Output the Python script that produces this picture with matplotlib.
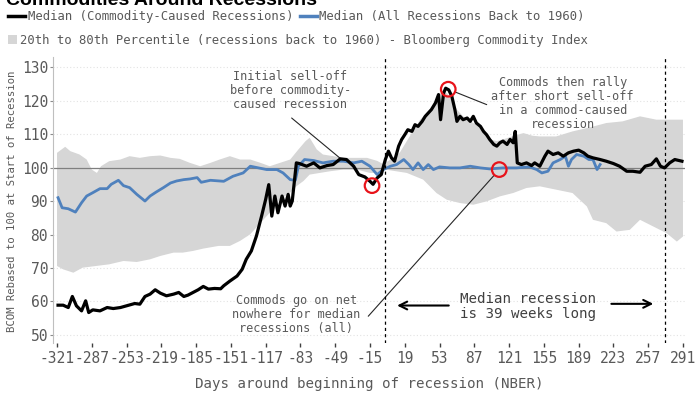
import matplotlib
matplotlib.use("Agg")
import matplotlib.pyplot as plt
from matplotlib.lines import Line2D
from matplotlib.patches import Patch
import numpy as np

# ---------------- data ----------------
black_days = [-320, -315, -310, -306, -302, -297, -293, -290, -286, -279, -272, -266, -259, -253,
              -245, -240, -235, -230, -225, -220, -214, -207, -202, -197, -193, -188, -183, -178,
              -173, -167, -161, -158, -152, -145, -140, -136, -131, -126, -121, -117, -114, -111,
              -108, -105, -101, -98, -95, -93, -91, -87, -84, -77, -70, -64, -57, -51, -44, -38,
              -31, -26, -20, -15, -12, -8, -4, 0, 3, 6, 9, 13, 16, 19, 22, 26, 29, 32, 36, 39,
              42, 45, 49, 52, 54, 57, 59, 62, 65, 68, 70, 73, 76, 80, 83, 86, 89, 93, 96, 99,
              102, 106, 109, 112, 115, 119, 122, 125, 127, 129, 133, 138, 143, 146, 151, 156,
              159, 164, 169, 174, 179, 184, 189, 194, 198, 203, 210, 216, 223, 229, 236, 242,
              249, 254, 260, 265, 269, 273, 278, 283, 290]
black_vals = [58.9, 58.9, 58.2, 61.5, 58.7, 57.2, 60.2, 56.7, 57.5, 57.2, 58.2, 57.9, 58.2, 58.7,
              59.4, 59.2, 61.5, 62.2, 63.5, 62.5, 61.7, 62.2, 62.7, 61.5, 61.9, 62.7, 63.5, 64.5,
              63.7, 63.9, 63.8, 64.7, 66.1, 67.6, 69.6, 72.6, 75.1, 79.6, 85.5, 90.5, 94.9, 85.5,
              91.5, 86.5, 91.5, 88.5, 92.0, 88.5, 90.0, 101.4, 101.2, 100.4, 101.4, 99.9, 100.6, 100.9, 102.6, 102.4,
              100.4, 97.9, 97.2, 95.9, 95.0, 96.9, 97.9, 102.4, 104.9, 102.9, 101.9, 106.4, 108.4, 109.8, 111.3, 110.8, 112.8, 112.3, 113.8, 115.3,
              116.3, 117.3, 119.3, 121.8, 114.3, 122.3, 123.7, 123.2, 121.3, 117.3, 113.8, 115.3, 114.3, 114.8, 113.8, 115.3, 113.3, 112.3, 110.8, 109.8,
              108.4, 106.9, 106.4, 107.4, 107.9, 106.9, 108.4, 107.4, 110.8, 101.4, 100.9, 101.4, 100.6, 101.4, 100.4, 103.4,
              104.9, 103.9, 104.4, 103.4, 104.4, 104.9, 105.2, 104.4, 103.4, 102.9, 102.4, 101.9, 101.2, 100.4, 98.9, 98.9,
              98.6, 100.4, 100.9, 102.6, 100.4, 99.9, 101.4, 102.4, 101.9]

blue_days = [-320, -316, -310, -303, -297, -292, -286, -279, -272, -268, -261, -256, -250, -243,
             -235, -230, -224, -217, -210, -204, -197, -191, -184, -180, -171, -158, -149, -139,
             -132, -124, -116, -106, -100, -93, -88, -85, -79, -70, -61, -51, -41, -31, -23, -15,
             -8, -2, 5, 11, 18, 23, 27, 32, 37, 42, 47, 53, 63, 73, 83, 93, 102, 115, 128, 141,
             148, 153, 159, 164, 171, 176, 179, 182, 187, 194, 199, 203, 207, 210]
blue_vals = [91.0, 88.0, 87.7, 86.7, 89.5, 91.5, 92.5, 93.7, 93.7, 95.0, 96.2, 94.6, 94.0, 92.0,
             90.0, 91.5, 92.7, 94.0, 95.4, 96.0, 96.4, 96.6, 97.0, 95.6, 96.2, 95.9, 97.4, 98.4,
             100.4, 99.9, 99.4, 99.4, 98.4, 96.4, 96.2, 100.4, 102.4, 102.1, 101.4, 101.9, 101.9, 101.4, 101.9, 100.4,
             97.9, 99.4, 100.4, 100.9, 102.4, 100.9, 99.4, 101.4, 99.4, 100.9, 99.4, 100.2, 99.9, 99.9, 100.4, 99.9, 99.6, 99.9, 99.9, 100.2,
             99.4, 98.4, 98.9, 101.4, 102.4, 103.4, 100.4, 102.4, 103.9, 103.4, 102.4, 102.4, 99.4, 100.9]

band_upper_days = [-321, -313, -308, -299, -292, -287, -282, -278, -270, -259, -250, -240, -230, -220,
                   -210, -201, -191, -181, -171, -162, -152, -142, -132, -122, -113, -103, -93, -85,
                   -78, -74, -67, -61, -51, -41, -28, -18, -8, -2, 5, 14, 24, 34, 44, 50, 55, 58,
                   63, 70, 76, 83, 92, 102, 109, 115, 125, 135, 144, 151, 167, 183, 200, 216, 232,
                   249, 265, 281, 291]
band_upper_vals = [104.4, 106.2, 104.9, 103.9, 102.4, 99.4, 98.4, 100.4, 101.9, 102.4, 103.4, 102.9, 103.4, 103.6,
                   102.9, 102.6, 101.4, 100.4, 101.4, 102.4, 103.4, 102.4, 102.4, 101.4, 100.4, 101.4, 102.4, 105.4,
                   107.9, 108.9, 105.4, 103.9, 103.4, 102.9, 102.9, 102.9, 102.0, 101.0, 102.4, 104.4, 109.4, 114.3, 117.3, 120.3, 122.8, 122.8,
                   121.3, 117.3, 115.3, 113.8, 112.3, 108.4, 107.9, 108.4, 109.4, 110.3, 109.5, 109.3, 109.3, 110.8, 112.0, 113.3, 113.8,
                   115.3, 114.3, 114.3, 114.3]

band_lower_days = [-321, -315, -305, -296, -283, -270, -256, -243, -230, -220, -207, -198, -188, -178,
                   -163, -152, -142, -132, -122, -113, -103, -93, -87, -80, -74, -64, -54, -41, -28,
                   -15, -5, 0, 21, 37, 50, 60, 73, 86, 99, 112, 125, 138, 151, 167, 183, 197, 203,
                   216, 226, 239, 249, 262, 275, 285, 291]
band_lower_vals = [70.6, 69.6, 68.6, 70.1, 70.6, 71.1, 72.1, 71.8, 72.6, 73.6, 74.6, 74.6, 75.1, 75.8,
                   76.6, 76.6, 78.1, 80.1, 83.5, 86.5, 90.5, 92.5, 94.4, 96.0, 97.9, 98.4, 98.9, 99.4, 99.4,
                   98.4, 98.4, 99.4, 98.4, 96.4, 92.4, 90.4, 89.4, 88.9, 89.9, 91.4, 92.4, 93.9, 94.4, 93.4, 92.4, 88.4, 84.4,
                   83.4, 80.9, 81.4, 84.4, 82.4, 80.4, 77.9, 79.4]

x_ticks = [-321, -287, -253, -219, -185, -151, -117, -83, -49, -15, 19, 53, 87, 121, 155, 189, 223, 257, 291]
x_tick_labels = ["-321", "-287", "-253", "-219", "-185", "-151", "-117", "-83", "-49", "-15",
                 "19", "53", "87", "121", "155", "189", "223", "257", "291"]
y_ticks = [50, 60, 70, 80, 90, 100, 110, 120, 130]

recession_marks = [0, 273]                 # start of recession, median length (39 weeks)
highlight_days = [-13, 61.5, 111.4]
highlight_vals = [94.6, 123.4, 99.4]

# ---------------- style ----------------
MONO = "DejaVu Sans Mono"
TXT = "#595959"
BLUE = "#4F81BD"
GRAY = "#D6D6D6"

fig = plt.figure(figsize=(7.0, 3.94), dpi=100)
ax = fig.add_axes([0.0756, 0.1294, 0.9786 - 0.0756, 0.856 - 0.1294])

ax.set_xlim(-325, 293)
ax.set_ylim(47.6, 133.1)

# band
ax.fill(np.concatenate([band_upper_days, band_lower_days[::-1]]),
        np.concatenate([band_upper_vals, band_lower_vals[::-1]]),
        color=GRAY, lw=0, zorder=1)

ax.axhline(100, color="#7f7f7f", lw=0.9, zorder=2)
ax.plot(blue_days, blue_vals, color=BLUE, lw=2.0, zorder=3, solid_joinstyle="round")
ax.plot(black_days, black_vals, color="black", lw=2.3, zorder=4, solid_joinstyle="round")

for d in recession_marks:
    ax.axvline(d, color="black", lw=0.9, ls=(0, (2.5, 2.5)), zorder=5)

ax.scatter(highlight_days, highlight_vals, s=110, facecolors="none", edgecolors="#E8131A",
           linewidths=1.6, zorder=6)

# axes styling
for s in ["top", "right", "bottom"]:
    ax.spines[s].set_visible(False)
ax.spines["left"].set_color("#BFBFBF")
ax.spines["left"].set_linewidth(0.8)
ax.set_yticks(y_ticks)
ax.set_yticklabels([str(v) for v in y_ticks])
ax.set_xticks(x_ticks)
ax.set_xticklabels(x_tick_labels)
ax.tick_params(axis="y", direction="out", length=2.5, width=0.8, color="#8c8c8c", pad=1,
               labelsize=10.5, labelcolor=TXT)
ax.tick_params(axis="x", direction="out", length=3, width=1.0, color="#404040", pad=3,
               labelsize=10.5, labelcolor=TXT)
for lab in ax.get_xticklabels() + ax.get_yticklabels():
    lab.set_family(MONO)
ax.grid(axis="y", color="#E3E3E3", lw=0.8, ls=(0, (1, 2)), zorder=0)
ax.set_axisbelow(True)

fig.text(0.527, 0.025, "Days around beginning of recession (NBER)", family=MONO,
         fontsize=10.2, color=TXT, ha="center", va="center")
fig.text(0.017, 0.49, "BCOM Rebased to 100 at Start of Recession", family=MONO,
         fontsize=7.7, color=TXT, ha="center", va="center", rotation=90)

# title (partially cropped at top as in the reference)
fig.text(0.008, 0.987, "Commodities Around Recessions", family="Liberation Sans",
         fontweight="bold", fontsize=14, color="black", ha="left", va="baseline")

# legends
h_black = Line2D([], [], color="black", lw=2.5)
h_blue = Line2D([], [], color=BLUE, lw=2.5)
h_band = Patch(facecolor=GRAY, edgecolor="none")
fig.legend([h_black, h_blue],
           ["Median (Commodity-Caused Recessions)", "Median (All Recessions Back to 1960)"],
           ncol=2, loc="center left", bbox_to_anchor=(0.0114, 0.957), frameon=False,
           prop={"family": MONO, "size": 8.8}, labelcolor=TXT, handlelength=1.4,
           handletextpad=0.2, columnspacing=0.55, borderpad=0, borderaxespad=0)
fig.legend([h_band],
           ["20th to 80th Percentile (recessions back to 1960) - Bloomberg Commodity Index"],
           loc="center left", bbox_to_anchor=(0.0114, 0.898), frameon=False,
           prop={"family": MONO, "size": 8.8}, labelcolor=TXT, handlelength=0.7,
           handleheight=0.7, handletextpad=0.25, borderpad=0, borderaxespad=0)

# annotations
ann_kw = dict(family=MONO, fontsize=8.6, color=TXT, ha="center", va="center", linespacing=1.1, zorder=7)
ax.text(-93, 123, "Initial sell-off\nbefore commodity-\ncaused recession", **ann_kw)
ax.annotate("", xy=(-42.7, 102.4), xytext=(-91.6, 114.8),
            arrowprops=dict(arrowstyle="-", color="#262626", lw=0.8, shrinkA=0, shrinkB=0))

ax.text(-87, 56.1, "Commods go on net\nnowhere for median\nrecessions (all)", **ann_kw)
ax.annotate("", xy=(highlight_days[2], highlight_vals[2]), xytext=(-16.7, 55.6),
            arrowprops=dict(arrowstyle="-", color="#262626", lw=0.8, shrinkA=0, shrinkB=5.5))

ax.text(173.4, 119.1, "Commods then rally\nafter short sell-off\nin a commod-caused\nrecession", **ann_kw)
ax.annotate("", xy=(highlight_days[1], highlight_vals[1]), xytext=(99.1, 118.8),
            arrowprops=dict(arrowstyle="-", color="#262626", lw=0.8, shrinkA=0, shrinkB=5.5))

ax.text(139.5, 58.5, "Median recession\nis 39 weeks long", family=MONO, fontsize=10.2,
        color="#404040", ha="center", va="center", linespacing=1.05, zorder=7)
ax.annotate("", xy=(11.5, 58.8), xytext=(62, 58.8),
            arrowprops=dict(arrowstyle="->", color="black", lw=1.5, mutation_scale=14,
                            shrinkA=0, shrinkB=0))
ax.annotate("", xy=(262, 59.3), xytext=(221, 59.3),
            arrowprops=dict(arrowstyle="->", color="black", lw=1.5, mutation_scale=14,
                            shrinkA=0, shrinkB=0))

fig.savefig("out.png", dpi=100)
